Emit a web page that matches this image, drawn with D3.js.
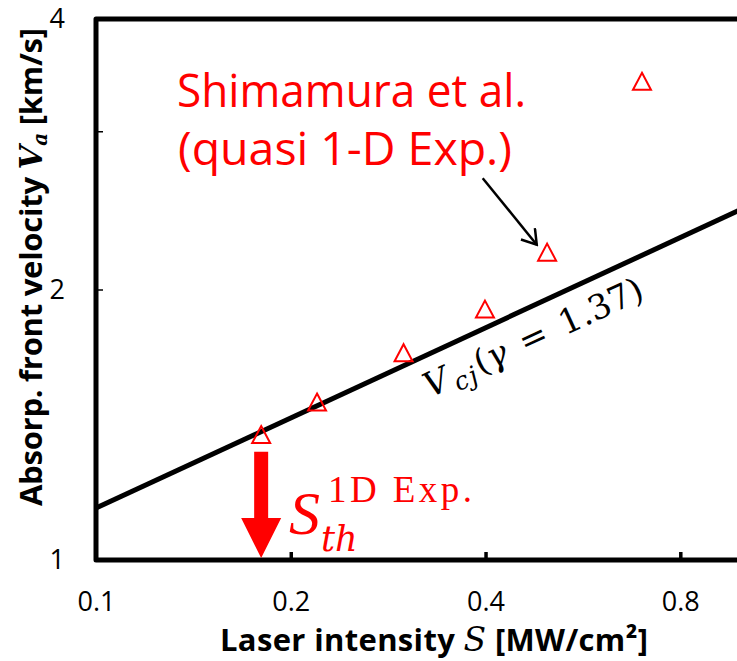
<!DOCTYPE html>
<html>
<head>
<meta charset="utf-8">
<script src="https://cdn.jsdelivr.net/npm/d3@7"></script>
<style>
  body { margin: 0; background: #fff; }
  svg { display: block; }
</style>
</head>
<body>
<svg id="chart" width="737" height="661"></svg>
<script>
// measured data (log-log)
const expS = [0.180, 0.2196, 0.2988, 0.3992, 0.498, 0.698];
const expV = [1.379, 1.499, 1.701, 1.902, 2.201, 3.41];
// Vcj(gamma = 1.37) line, end points
const cjS = [0.1, 1.0];
const cjV = [1.1425, 2.461];
const xTicks = [0.1, 0.2, 0.4, 0.8];
const yLabels = [1, 2, 4];
const yTickMarks = [2, 3];
const sThreshold = 0.18;

const svg = d3.select("#chart");
const width = 737, height = 661;

var x = d3.scaleLog().domain([0.1, 1]).range([96, 743]);
var y = d3.scaleLog().domain([1, 4]).range([560, 19]);

// frame (top, left, bottom)
svg.append("path")
  .attr("d", `M${x(1)},${y(4)} L${x(0.1)},${y(4)} L${x(0.1)},${y(1)} L${x(1)},${y(1)}`)
  .attr("fill", "none")
  .attr("stroke", "#000")
  .attr("stroke-width", 5)
  .attr("stroke-linejoin", "round");

// x axis: inward ticks + labels
var gx = svg.append("g")
  .attr("transform", "translate(0," + y(1) + ")")
  .call(d3.axisBottom(x).tickValues(xTicks).tickFormat(d3.format(".1f"))
    .tickSizeInner(-8).tickSizeOuter(0).tickPadding(32));
gx.select(".domain").remove();
gx.selectAll("line").attr("stroke", "#000").attr("stroke-width", 3.5)
  .filter(d => d === 0.1).remove();
gx.selectAll("text")
  .attr("font-family", "'Open Sans', sans-serif")
  .attr("font-size", 27)
  .attr("fill", "#000");

// y axis labels
var gy = svg.append("g")
  .attr("transform", "translate(" + x(0.1) + ",0)")
  .call(d3.axisLeft(y).tickValues(yLabels).tickFormat(d3.format("d"))
    .tickSize(0).tickPadding(31));
gy.select(".domain").remove();
gy.selectAll("text")
  .attr("font-family", "'Open Sans', sans-serif")
  .attr("font-size", 27)
  .attr("fill", "#000");

// y axis inward tick marks
var gy2 = svg.append("g")
  .attr("transform", "translate(" + x(0.1) + ",0)")
  .call(d3.axisLeft(y).tickValues(yTickMarks).tickFormat("")
    .tickSizeInner(-7).tickSizeOuter(0));
gy2.select(".domain").remove();
gy2.selectAll("line").attr("stroke", "#000").attr("stroke-width", 1.5);

// Vcj line
svg.append("path")
  .datum(cjS.map((s, i) => [s, cjV[i]]))
  .attr("d", d3.line().x(d => x(d[0])).y(d => y(d[1])))
  .attr("fill", "none")
  .attr("stroke", "#000")
  .attr("stroke-width", 5);

// experimental points (open triangles)
svg.selectAll(".tri")
  .data(expS.map((s, i) => [s, expV[i]]))
  .enter()
  .append("path")
  .attr("class", "tri")
  .attr("transform", d => "translate(" + x(d[0]) + "," + y(d[1]) + ")")
  .attr("d", "M0,-8.5 L9,8.5 L-9,8.5 Z")
  .attr("fill", "none")
  .attr("stroke", "#ff0000")
  .attr("stroke-width", 2);

// threshold arrow
var ax = x(sThreshold), aTop = y(1.32), aTip = y(1) - 2;
svg.append("path")
  .attr("d", `M${ax - 7},${aTop} L${ax + 7},${aTop} L${ax + 7},${aTip - 40} L${ax + 20},${aTip - 40}
    L${ax},${aTip} L${ax - 20},${aTip - 40} L${ax - 7},${aTip - 40} Z`)
  .attr("fill", "#ff0000");

// S_th^{1D Exp.}
svg.append("text")
  .attr("x", 289).attr("y", 534)
  .attr("font-family", "'Liberation Serif', serif")
  .attr("font-style", "italic")
  .attr("font-size", 62)
  .attr("fill", "#ff0000")
  .text("S");
svg.append("text")
  .attr("x", 321).attr("y", 551)
  .attr("font-family", "'DejaVu Serif', serif")
  .attr("font-style", "italic")
  .attr("font-size", 35)
  .attr("fill", "#ff0000")
  .text("th");
svg.append("text")
  .attr("x", 328).attr("y", 502)
  .attr("font-family", "'Liberation Serif', serif")
  .attr("font-size", 37)
  .attr("textLength", 144)
  .attr("fill", "#ff0000")
  .text("1D Exp.");

// Shimamura et al.
svg.append("text")
  .attr("x", 177).attr("y", 107)
  .attr("font-family", "'Open Sans', sans-serif")
  .attr("font-size", 45)
  .attr("textLength", 349)
  .attr("lengthAdjust", "spacingAndGlyphs")
  .attr("fill", "#ff0000")
  .text("Shimamura et al.");
svg.append("text")
  .attr("x", 178).attr("y", 165)
  .attr("font-family", "'Open Sans', sans-serif")
  .attr("font-size", 45)
  .attr("textLength", 334)
  .attr("lengthAdjust", "spacingAndGlyphs")
  .attr("fill", "#ff0000")
  .text("(quasi 1-D Exp.)");

// pointer arrow to data point
svg.append("defs").append("marker")
  .attr("id", "open")
  .attr("markerUnits", "userSpaceOnUse")
  .attr("viewBox", "-16 -10 18 20")
  .attr("refX", 0).attr("refY", 0)
  .attr("markerWidth", 18).attr("markerHeight", 20)
  .attr("orient", "auto")
  .append("path")
  .attr("d", "M-14,-9 L0,0 L-14,9")
  .attr("fill", "none")
  .attr("stroke", "#000")
  .attr("stroke-width", 2.5);
svg.append("line")
  .attr("x1", x(0.396)).attr("y1", y(2.66))
  .attr("x2", x(0.48)).attr("y2", y(2.243))
  .attr("stroke", "#000")
  .attr("stroke-width", 2.5)
  .attr("marker-end", "url(#open)");

// Vcj(γ = 1.37) label along the line
var ang = Math.atan2(y(cjV[1]) - y(cjV[0]), x(cjS[1]) - x(cjS[0])) * 180 / Math.PI;
var lab = svg.append("text")
  .attr("transform", "translate(430,398) rotate(" + ang + ")")
  .attr("font-family", "'DejaVu Serif', serif")
  .attr("font-size", 34)
  .attr("fill", "#000");
lab.append("tspan").attr("font-style", "italic").text("V");
lab.append("tspan").attr("font-style", "italic").attr("font-size", 25).attr("dx", 4).attr("dy", 6).text("c");
lab.append("tspan").attr("font-style", "italic").attr("font-size", 25).attr("dx", 2).text("j");
lab.append("tspan").attr("dy", -6).attr("dx", 3).text("(");
lab.append("tspan").attr("font-style", "italic").text("γ");
lab.append("tspan").attr("dx", 5).text(" = ");
lab.append("tspan").attr("dx", 5).text("1.37)");

// axis titles
var xt = svg.append("text")
  .attr("x", 220).attr("y", 651)
  .attr("font-family", "'Open Sans', sans-serif")
  .attr("font-weight", "bold")
  .attr("font-size", 31)
  .attr("textLength", 428)
  .attr("fill", "#000");
xt.append("tspan").text("Laser intensity ");
xt.append("tspan").attr("font-family", "'DejaVu Serif', serif").attr("font-style", "italic")
  .attr("font-weight", "normal").attr("font-size", 33).text("S");
xt.append("tspan").text("  [MW/cm²]");

var yt = svg.append("text")
  .attr("transform", "translate(42,506) rotate(-90)")
  .attr("font-family", "'Open Sans', sans-serif")
  .attr("font-weight", "bold")
  .attr("font-size", 31)
  .attr("textLength", 478)
  .attr("fill", "#000");
yt.append("tspan").text("Absorp. front velocity ");
yt.append("tspan").attr("font-family", "'DejaVu Serif', serif").attr("font-style", "italic").text("V");
yt.append("tspan").attr("font-family", "'DejaVu Serif', serif").attr("font-style", "italic")
  .attr("font-size", 20).attr("dy", 5).text("a");
yt.append("tspan").attr("dy", -5).text(" [km/s]");
</script>
</body>
</html>
